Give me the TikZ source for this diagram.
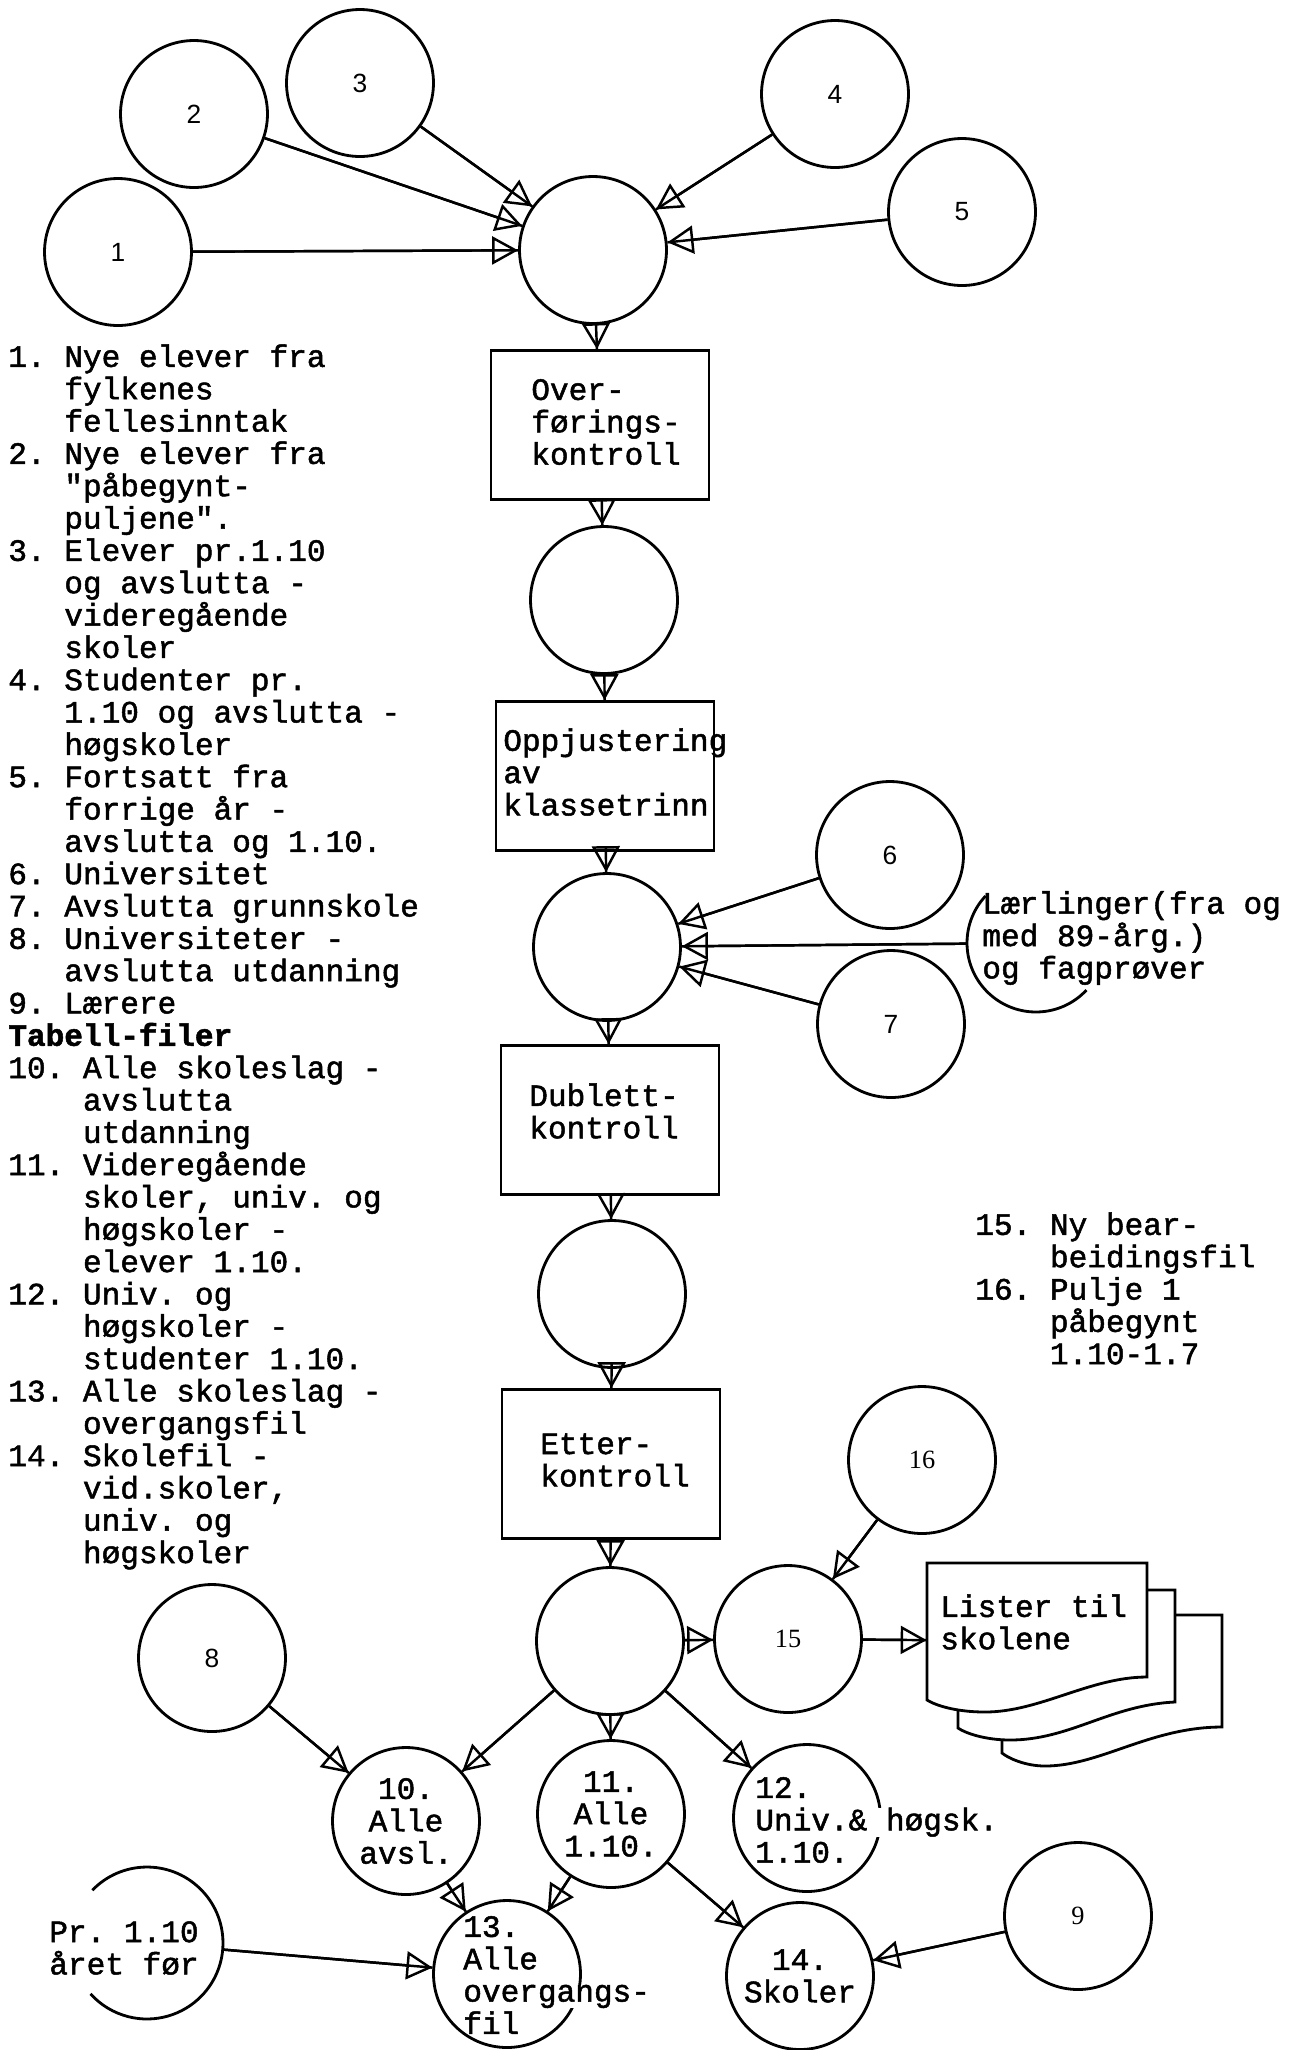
\documentclass[tikz,border=0pt]{standalone}
\usepackage{fontspec}
\setmainfont{Liberation Serif}
\setmonofont{Liberation Mono}[FakeBold=1.6]
\newfontfamily\numfont{Liberation Sans}
\usetikzlibrary{arrows.meta}
\setlength{\fboxsep}{0pt}
\newcommand\listsize{\fontsize{17.7pt}{18.4pt}\selectfont}
\newcommand\ind{\hphantom{0. }}
\newcommand\indd{\hphantom{00. }}

\begin{document}
\begin{tikzpicture}[x=0.02cm, y=-0.02cm,
	filecirc/.style={circle, draw, line width=1.6pt, minimum size=2.94cm, inner sep=0pt,
		font={\numfont\fontsize{15pt}{18pt}\selectfont}},
	procbox/.style={draw, line width=1.6pt, minimum width=4.36cm, minimum height=2.98cm, inner sep=0pt},
	txt/.style={font=\ttfamily\listsize, align=left, inner sep=0pt},
	flowarrow/.style={line width=1.4pt, -{Triangle[open, length=0.52cm, width=0.56cm]},
		postaction={draw, line width=1.4pt, -}}]
	\fill[white] (0,0) rectangle (1302,2050);
	\useasboundingbox (0,0) rectangle (1302,2050);
	
	% Sources at the top
	\node[filecirc] (s1) at (118,252) {1};
	\node[filecirc] (s2) at (194,114) {2};
	\node[filecirc] (s3) at (360,83) {3};
	\node[filecirc] (s4) at (835,94) {4};
	\node[filecirc] (s5) at (962,212) {5};
	
	% Main chain
	\node[filecirc] (hub1) at (593,250) {};
	\node[procbox] (over) at (600,425) {};
	\node[txt, anchor=west] (overtxt) at (531,422) {Over-\\førings-\\kontroll};
	\node[filecirc] (hub2) at (604,600) {};
	\node[procbox] (oppj) at (605,776) {};
	\node[txt, anchor=west] (oppjtxt) at (503,772) {Oppjustering\\av\\klassetrinn};
	\node[filecirc] (hub3) at (607,947) {};
	\node[procbox] (dubl) at (610,1120) {};
	\node[txt, anchor=west] (dubltxt) at (529,1111) {Dublett-\\kontroll};
	\node[filecirc] (hub4) at (612,1294) {};
	\node[procbox] (etter) at (611,1464) {};
	\node[txt, anchor=west] (ettertxt) at (540,1460) {Etter-\\kontroll};
	\node[filecirc] (hub5) at (610,1641) {};
	
	% Side inputs
	\node[filecirc] (s6) at (890,855) {6};
	\node[filecirc] (s7) at (891,1024) {7};
	\node[circle, minimum size=2.76cm, inner sep=0pt] (laer) at (1036,943) {};
	\draw[line width=1.6pt] ([shift={(137:1.38cm)}]laer.center) arc[start angle=137, end angle=317, radius=1.38cm];
	\node[txt, anchor=west] (laertxt) at (982,938) {Lærlinger(fra og\\med 89-årg.)\\og fagprøver};
	
	% Outputs
	\node[filecirc, font={\rmfamily\fontsize{15pt}{18pt}\selectfont}] (s15) at (788,1639) {15};
	\node[filecirc, font={\rmfamily\fontsize{15pt}{18pt}\selectfont}] (s16) at (922,1460) {16};
	\node[filecirc] (s8) at (212,1658) {8};
	\node[filecirc, font={\rmfamily\fontsize{15pt}{18pt}\selectfont}] (s9) at (1078,1916) {9};
	\node[filecirc, font=\ttfamily\listsize, align=center] (t10) at (406,1821) {10.\\Alle\\avsl.};
	\node[filecirc, font=\ttfamily\listsize, align=center] (t11) at (611,1814) {11.\\Alle\\1.10.};
	\node[filecirc] (t12) at (807,1818) {};
	\node[txt, anchor=west] (t12txt) at (755,1820) {12.\\\colorbox{white}{Univ.\& høgsk.}\\1.10.};
	\node[filecirc] (t13) at (507,1974) {};
	\node[txt, anchor=west] (t13txt) at (463,1975) {13.\\Alle\\\colorbox{white}{overgangs-}\\fil};
	\node[filecirc, font=\ttfamily\listsize, align=center] (t14) at (800,1976) {14.\\Skoler};
	\node[circle, minimum size=3.04cm, inner sep=0pt] (pr) at (147,1943) {};
	\draw[line width=1.6pt] ([shift={(136:1.52cm)}]pr.center) arc[start angle=136, end angle=-138, radius=1.52cm];
	\node[txt, anchor=west] (prtxt) at (49,1948) {Pr. 1.10\\året før};
	
	% Stack of lists
	\draw[line width=1.6pt, fill=white] (1002,1615) -- (1222,1615) -- (1222,1727)
		.. controls (1150,1727) and (1100,1766) .. (1045,1766)
		.. controls (1025,1766) and (1008,1758) .. (1002,1753) -- cycle;
	\draw[line width=1.6pt, fill=white] (958,1590) -- (1175,1590) -- (1175,1702)
		.. controls (1110,1705) and (1070,1740) .. (1010,1740)
		.. controls (985,1740) and (965,1733) .. (958,1728) -- cycle;
	\draw[line width=1.6pt, fill=white] (927,1563) -- (1147,1563) -- (1147,1677)
		.. controls (1090,1677) and (1040,1712) .. (985,1712)
		.. controls (955,1712) and (935,1705) .. (927,1700) -- cycle;
	\node[minimum width=4.4cm, minimum height=2cm, inner sep=0pt] (lister) at (1037,1641) {};
	\node[txt, anchor=north west] (listertxt) at (940,1594) {Lister til\\skolene};
	
	% Legends
	\node[txt, anchor=north west] (legend) at (8,344) {%
		1. Nye elever fra\\
		\ind fylkenes\\
		\ind fellesinntak\\
		2. Nye elever fra\\
		\ind "påbegynt-\\
		\ind puljene".\\
		3. Elever pr.1.10\\
		\ind og avslutta -\\
		\ind videregående\\
		\ind skoler\\
		4. Studenter pr.\\
		\ind 1.10 og avslutta -\\
		\ind høgskoler\\
		5. Fortsatt fra\\
		\ind forrige år -\\
		\ind avslutta og 1.10.\\
		6. Universitet\\
		7. Avslutta grunnskole\\
		8. Universiteter -\\
		\ind avslutta utdanning\\
		9. Lærere\\
		\textbf{Tabell-filer}\\
		10. Alle skoleslag -\\
		\indd avslutta\\
		\indd utdanning\\
		11. Videregående\\
		\indd skoler, univ. og\\
		\indd høgskoler -\\
		\indd elever 1.10.\\
		12. Univ. og\\
		\indd høgskoler -\\
		\indd studenter 1.10.\\
		13. Alle skoleslag -\\
		\indd overgangsfil\\
		14. Skolefil -\\
		\indd vid.skoler,\\
		\indd univ. og\\
		\indd høgskoler};
	\node[txt, anchor=north west] (notes) at (975,1212) {%
		15. Ny bear-\\
		\indd beidingsfil\\
		16. Pulje 1\\
		\indd påbegynt\\
		\indd 1.10-1.7};
	
	% Connectors
	\draw[flowarrow] (s1) -- (hub1);
	\draw[flowarrow] (s2) -- (hub1);
	\draw[flowarrow] (s3) -- (hub1);
	\draw[flowarrow] (s4) -- (hub1);
	\draw[flowarrow] (s5) -- (hub1);
	\draw[flowarrow] (hub1) -- (over);
	\draw[flowarrow] (over) -- (hub2);
	\draw[flowarrow] (hub2) -- (oppj);
	\draw[flowarrow] (oppj) -- (hub3);
	\draw[flowarrow] (s6) -- (hub3);
	\draw[flowarrow] (laer) -- (hub3);
	\draw[flowarrow] (s7) -- (hub3);
	\draw[flowarrow] (hub3) -- (dubl);
	\draw[flowarrow] (dubl) -- (hub4);
	\draw[flowarrow] (hub4) -- (etter);
	\draw[flowarrow] (etter) -- (hub5);
	\draw[flowarrow] (hub5) -- (s15);
	\draw[flowarrow] (s16) -- (s15);
	\draw[flowarrow] (s15) -- (lister);
	\draw[flowarrow] (hub5) -- (t10);
	\draw[flowarrow] (hub5) -- (t11);
	\draw[flowarrow] (hub5) -- (t12);
	\draw[flowarrow] (s8) -- (t10);
	\draw[flowarrow] (t10) -- (t13);
	\draw[flowarrow] (t11) -- (t13);
	\draw[flowarrow] (t11) -- (t14);
	\draw[flowarrow] (pr) -- (t13);
	\draw[flowarrow] (s9) -- (t14);
\end{tikzpicture}
\end{document}
